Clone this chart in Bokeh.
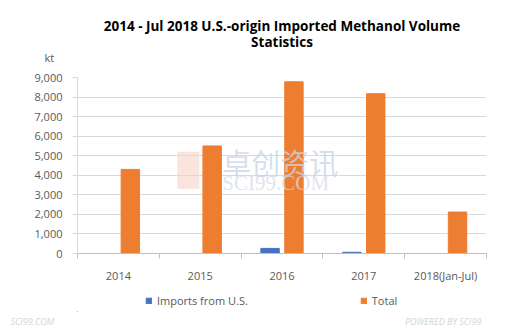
from bokeh.plotting import figure
from bokeh.layouts import column
from bokeh.models import (ColumnDataSource, FixedTicker, NumeralTickFormatter, Range1d,
                          Legend, LegendItem, Label, Title, CustomJSTickFormatter, BoxAnnotation)
from bokeh.embed import file_html
from bokeh.resources import INLINE

categories = ["2014", "2015", "2016", "2017", "2018(Jan-Jul)"]
imports_us = [0, 0, 260, 60, 0]
total = [4300, 5500, 8780, 8170, 2120]
y_ticks = [0, 1000, 2000, 3000, 4000, 5000, 6000, 7000, 8000, 9000]
series_names = ["Imports from U.S.", "Total"]
series_colors = ["#4472C4", "#ED7D31"]
title_lines = ["2014 - Jul 2018 U.S.-origin Imported Methanol Volume", "Statistics"]
unit_label = "kt"

FONT = "Open Sans"
TXT = "#595959"

n = len(categories)
centers = [i + 0.5 for i in range(n)]
dodge = 0.146
bw = 0.225

# ---------- title strip ----------
t = figure(width=526, height=64, output_backend="svg", toolbar_location=None,
           x_range=Range1d(0, n), y_range=Range1d(50, 0),
           x_axis_location=None, y_axis_location=None,
           min_border_left=0, min_border_right=0, min_border_top=0, min_border_bottom=0)
t.outline_line_color = None
t.grid.visible = False
t.add_layout(Label(x=n / 2, y=27, text=title_lines[0], text_font=FONT,
                   text_font_size="13.5px", text_font_style="bold", text_color="black",
                   text_align="center", text_baseline="middle"))
t.add_layout(Label(x=n / 2, y=44, text=title_lines[1], text_font=FONT,
                   text_font_size="13.5px", text_font_style="bold", text_color="black",
                   text_align="center", text_baseline="middle"))
t.add_layout(Title(text=unit_label, align="left", offset=-33, text_font=FONT,
                   text_font_size="11px", text_font_style="normal", text_color=TXT,
                   standoff=0), "below")

# ---------- main chart ----------
src = ColumnDataSource(dict(
    x_imp=[c - dodge for c in centers],
    x_tot=[c + dodge for c in centers],
    imp=imports_us, tot=total))

p = figure(width=526, height=221, output_backend="svg", toolbar_location=None,
           x_range=Range1d(0, n), y_range=Range1d(0, 9000),
           min_border_left=77, min_border_right=40, min_border_top=13, min_border_bottom=30)
p.outline_line_color = None
p.background_fill_color = "white"
p.border_fill_color = "white"

# watermark (behind bars)
p.add_layout(BoxAnnotation(left=1.22, right=1.49, bottom=3300, top=5200,
                           fill_color="#f4cfc2", fill_alpha=0.55, line_color=None,
                           level="underlay"))
p.add_layout(Label(x=1.77, y=4700, text="卓创资讯", text_font="Noto Sans CJK SC",
                   text_font_size="29px", text_color="#c9d5e6", text_alpha=0.75,
                   text_align="left", text_baseline="middle"))
p.add_layout(Label(x=1.77, y=3600, text="SCI99.COM", text_font="Liberation Serif",
                   text_font_size="21px", text_color="#d5dbe4", text_alpha=0.75,
                   text_align="left", text_baseline="middle"))

r1 = p.vbar(x="x_imp", top="imp", width=bw, source=src, color=series_colors[0])
r2 = p.vbar(x="x_tot", top="tot", width=bw, source=src, color=series_colors[1])

p.xgrid.visible = False
p.ygrid.ticker = FixedTicker(ticks=y_ticks)
p.ygrid.grid_line_color = "#d9d9d9"
p.ygrid.grid_line_width = 1

p.yaxis.ticker = FixedTicker(ticks=y_ticks)
p.yaxis.formatter = NumeralTickFormatter(format="0,0")
p.yaxis.axis_line_color = "#d9d9d9"
p.yaxis.major_tick_line_color = "#d9d9d9"
p.yaxis.major_tick_out = 5
p.yaxis.major_tick_in = 0
p.yaxis.minor_tick_line_color = None
p.yaxis.major_label_text_font = FONT
p.yaxis.major_label_text_font_size = "11px"
p.yaxis.major_label_text_color = TXT
p.yaxis.major_label_standoff = 10

p.xaxis.ticker = FixedTicker(ticks=centers, minor_ticks=list(range(n + 1)))
p.xaxis.formatter = CustomJSTickFormatter(
    args=dict(labels=categories),
    code="return labels[Math.floor(tick)];")
p.xaxis.axis_line_color = "#bfbfbf"
p.xaxis.major_tick_line_color = None
p.xaxis.minor_tick_line_color = "#bfbfbf"
p.xaxis.minor_tick_out = 5
p.xaxis.minor_tick_in = 0
p.xaxis.major_label_text_font = FONT
p.xaxis.major_label_text_font_size = "11px"
p.xaxis.major_label_text_color = TXT
p.xaxis.major_label_standoff = 8

# ---------- legend strip ----------
q = figure(width=526, height=43, output_backend="svg", toolbar_location=None,
           x_range=Range1d(0, 1), y_range=Range1d(0, 1),
           x_axis_location=None, y_axis_location=None,
           min_border_left=0, min_border_right=0, min_border_top=0, min_border_bottom=0)
q.outline_line_color = None
q.grid.visible = False
dummy = ColumnDataSource(dict(x=[-5], top=[-5]))
g1 = q.vbar(x="x", top="top", width=0.1, source=dummy, color=series_colors[0])
g2 = q.vbar(x="x", top="top", width=0.1, source=dummy, color=series_colors[1])
legend = Legend(items=[LegendItem(label=series_names[0], renderers=[g1]),
                       LegendItem(label=series_names[1], renderers=[g2])],
                orientation="horizontal", location=(68, 3),
                label_text_font=FONT, label_text_font_size="11px", label_text_color=TXT,
                glyph_width=7, glyph_height=7, label_standoff=5, spacing=112,
                label_height=14, border_line_color=None,
                background_fill_alpha=0, padding=0, margin=0)
q.add_layout(legend, "center")
gap = "\u00a0" * 150
q.add_layout(Title(text="SCI99.COM" + gap + "POWERED BY SCI99", align="left", offset=-67,
                   text_font=FONT, text_font_size="9px", text_font_style="italic",
                   text_color="#d4d4d4", standoff=2), "below")

layout = column(t, p, q, spacing=0)
open("out.html", "w").write(file_html(layout, INLINE))
